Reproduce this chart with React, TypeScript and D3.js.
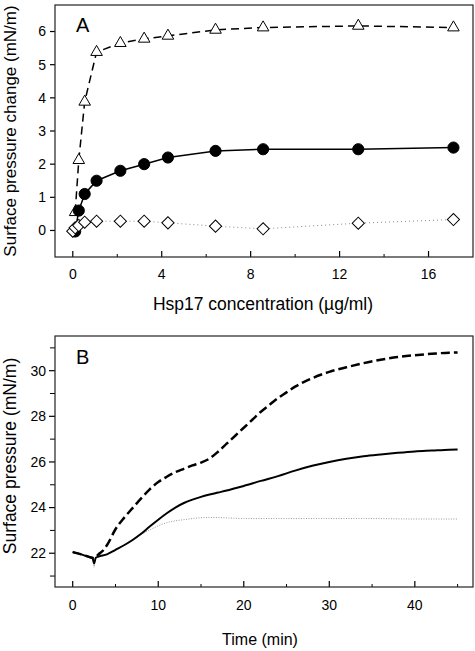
import React from "react";
import * as d3 from "d3";

// ---------- Panel A data ----------
const concTri = [0.107, 0.27, 0.535, 1.07, 2.14, 3.21, 4.28, 6.42, 8.56, 12.84, 17.12];
const valTri = [0.55, 2.12, 3.88, 5.38, 5.65, 5.78, 5.87, 6.05, 6.12, 6.17, 6.12];
const concCirc = [0.107, 0.27, 0.535, 1.07, 2.14, 3.21, 4.28, 6.42, 8.56, 12.84, 17.12];
const valCirc = [-0.03, 0.6, 1.1, 1.5, 1.8, 2.0, 2.2, 2.4, 2.45, 2.45, 2.5];
const concDia = [0, 0.107, 0.27, 0.535, 1.07, 2.14, 3.21, 4.28, 6.42, 8.56, 12.84, 17.12];
const valDia = [-0.02, 0.08, 0.15, 0.25, 0.28, 0.28, 0.28, 0.23, 0.13, 0.05, 0.22, 0.33];
const xTicksA = [0, 4, 8, 12, 16];
const xMinorA = [2, 6, 10, 14];
const yTicksA = [0, 1, 2, 3, 4, 5, 6];

// ---------- Panel B data ----------
const timeDash = [0, 1, 2, 2.5, 3, 3.5, 4, 5, 6, 7, 8, 9, 10, 11, 12, 13, 14, 15, 16, 17, 18, 19, 20, 21, 22, 23, 24, 25, 26, 27, 28, 29, 30, 32, 34, 36, 38, 40, 42, 44, 45];
const presDash = [22.05, 21.95, 21.83, 21.78, 21.95, 22.1, 22.35, 23.05, 23.55, 23.98, 24.4, 24.8, 25.12, 25.35, 25.55, 25.7, 25.85, 25.97, 26.15, 26.45, 26.8, 27.15, 27.5, 27.85, 28.2, 28.5, 28.8, 29.05, 29.3, 29.5, 29.67, 29.82, 29.95, 30.15, 30.33, 30.48, 30.6, 30.68, 30.74, 30.79, 30.8];
const timeSolid = [0, 1, 2, 2.3, 2.5, 2.7, 3, 4, 5, 6, 7, 8, 9, 10, 11, 12, 13, 14, 15, 16, 17, 18, 19, 20, 22, 24, 26, 28, 30, 32, 34, 36, 38, 40, 42, 44, 45];
const presSolid = [22.05, 21.95, 21.82, 21.8, 21.55, 21.8, 21.85, 21.95, 22.15, 22.35, 22.58, 22.85, 23.17, 23.47, 23.75, 24.0, 24.2, 24.35, 24.47, 24.57, 24.66, 24.75, 24.85, 24.95, 25.17, 25.38, 25.62, 25.83, 26.0, 26.14, 26.25, 26.33, 26.4, 26.46, 26.5, 26.54, 26.55];
const timeDot = [0, 1, 2, 2.4, 2.5, 2.6, 3, 4, 5, 6, 7, 8, 9, 10, 11, 12, 13, 14, 16, 18, 20, 25, 30, 35, 40, 45];
const presDot = [22.05, 21.95, 21.82, 21.7, 21.35, 21.75, 21.85, 21.95, 22.15, 22.37, 22.6, 22.82, 23.02, 23.2, 23.34, 23.42, 23.47, 23.52, 23.57, 23.55, 23.52, 23.52, 23.52, 23.52, 23.5, 23.5];
const xTicksB = [0, 10, 20, 30, 40];
const xMinorB = [5, 15, 25, 35, 45];
const yTicksB = [22, 24, 26, 28, 30];
const yMinorB = [21, 23, 25, 27, 29, 31];

const FONT = "'Liberation Sans', Arial, Helvetica, sans-serif";

const zip = (xs: number[], ys: number[]) => xs.map((x, i) => [x, ys[i]] as [number, number]);

export default function App() {
  const L = 55, R = 473;
  // Panel A
  const aTop = 5, aBot = 257;
  const xA = d3.scaleLinear().domain([-0.8, 18]).range([L, R]);
  const yA = d3.scaleLinear().domain([-0.8, 6.8]).range([aBot, aTop]);
  // Panel B
  const bTop = 336, bBot = 587;
  const xB = d3.scaleLinear().domain([-2.07, 46.8]).range([L, R]);
  const yB = d3.scaleLinear().domain([20.52, 31.52]).range([bBot, bTop]);

  const lineA = d3.line<[number, number]>().x(d => xA(d[0])).y(d => yA(d[1]));
  const lineB = d3.line<[number, number]>().x(d => xB(d[0])).y(d => yB(d[1])).curve(d3.curveMonotoneX);

  const triPath = d3.symbol().type(d3.symbolTriangle).size(58)()!;
  const circPath = d3.symbol().type(d3.symbolCircle).size(98)()!;
  const diaPath = d3.symbol().type(d3.symbolSquare).size(74)()!;

  const tri = zip(concTri, valTri);
  const circ = zip(concCirc, valCirc);
  const dia = zip(concDia, valDia);

  return (
    <svg width={475} height={651} style={{ position: "absolute", left: 0, top: 0, background: "#fff" }} fontFamily={FONT}>
      <rect x={0} y={0} width={475} height={651} fill="#fff" />
      {/* ===== Panel A ===== */}
      <g>
        {xTicksA.map(t => (
          <g key={"xa" + t}>
            <line x1={xA(t)} x2={xA(t)} y1={aBot} y2={aBot - 6} stroke="#000" strokeWidth={1.2} />
            <text x={xA(t)} y={279} fontSize={14} textAnchor="middle" fill="#000">{t}</text>
          </g>
        ))}
        {xMinorA.map(t => (
          <line key={"xam" + t} x1={xA(t)} x2={xA(t)} y1={aBot} y2={aBot - 3} stroke="#000" strokeWidth={1} />
        ))}
        {yTicksA.map(t => (
          <g key={"ya" + t}>
            <line x1={L - 5} x2={L} y1={yA(t)} y2={yA(t)} stroke="#000" strokeWidth={1.2} />
            <text x={46} y={yA(t)} dy="0.35em" fontSize={14} textAnchor="end" fill="#000">{t}</text>
          </g>
        ))}
        <text x={263} y={310} fontSize={17.5} textAnchor="middle" fill="#000">Hsp17 concentration (µg/ml)</text>
        <text transform={`translate(15.5,131) rotate(-90)`} fontSize={17} textAnchor="middle" fill="#000">Surface pressure change (mN/m)</text>
        <text x={76} y={32} fontSize={20} fill="#000">A</text>

        <path d={lineA(tri)!} fill="none" stroke="#000" strokeWidth={1.5} strokeDasharray="8,5" />
        <path d={lineA(circ)!} fill="none" stroke="#000" strokeWidth={1.5} />
        <path d={lineA(dia)!} fill="none" stroke="#888" strokeWidth={1} strokeDasharray="1,3" />

        {tri.map((d, i) => (
          <path key={"t" + i} d={triPath} transform={`translate(${xA(d[0])},${yA(d[1])})`} fill="#fff" stroke="#000" strokeWidth={1} />
        ))}
        {circ.map((d, i) => (
          <path key={"c" + i} d={circPath} transform={`translate(${xA(d[0])},${yA(d[1])})`} fill="#000" stroke="#000" strokeWidth={1} />
        ))}
        {dia.map((d, i) => (
          <path key={"d" + i} d={diaPath} transform={`translate(${xA(d[0])},${yA(d[1])}) rotate(45)`} fill="#fff" stroke="#000" strokeWidth={1} />
        ))}
        <rect x={L} y={aTop} width={R - L} height={aBot - aTop} fill="none" stroke="#222" strokeWidth={1.2} />
      </g>

      {/* ===== Panel B ===== */}
      <g>
        {xTicksB.map(t => (
          <g key={"xb" + t}>
            <line x1={xB(t)} x2={xB(t)} y1={bBot} y2={bBot - 6} stroke="#000" strokeWidth={1.2} />
            <text x={xB(t)} y={610} fontSize={14} textAnchor="middle" fill="#000">{t}</text>
          </g>
        ))}
        {xMinorB.map(t => (
          <line key={"xbm" + t} x1={xB(t)} x2={xB(t)} y1={bBot} y2={bBot - 3} stroke="#000" strokeWidth={1} />
        ))}
        {yTicksB.map(t => (
          <g key={"yb" + t}>
            <line x1={L - 6} x2={L} y1={yB(t)} y2={yB(t)} stroke="#000" strokeWidth={1.2} />
            <text x={46} y={yB(t)} dy="0.35em" fontSize={14} textAnchor="end" fill="#000">{t}</text>
          </g>
        ))}
        {yMinorB.map(t => (
          <line key={"ybm" + t} x1={L - 5} x2={L} y1={yB(t)} y2={yB(t)} stroke="#000" strokeWidth={1} />
        ))}
        <text x={260} y={645} fontSize={16} textAnchor="middle" fill="#000">Time (min)</text>
        <text transform={`translate(15.5,456) rotate(-90)`} fontSize={17.5} textAnchor="middle" fill="#000">Surface pressure (mN/m)</text>
        <text x={76} y={364} fontSize={20} fill="#000">B</text>

        <path d={lineB(zip(timeDot, presDot))!} fill="none" stroke="#999" strokeWidth={1} strokeDasharray="1,1.5" />
        <path d={lineB(zip(timeSolid, presSolid))!} fill="none" stroke="#000" strokeWidth={2} />
        <path d={lineB(zip(timeDash, presDash))!} fill="none" stroke="#000" strokeWidth={2.5} strokeDasharray="9,4" />

        <rect x={L} y={bTop} width={R - L} height={bBot - bTop} fill="none" stroke="#222" strokeWidth={1.2} />
      </g>
    </svg>
  );
}
